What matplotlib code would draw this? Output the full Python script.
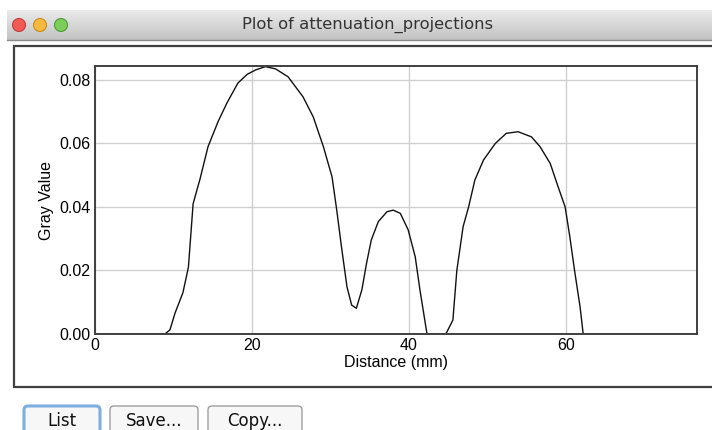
import numpy as np
import matplotlib
matplotlib.use("Agg")
import matplotlib.pyplot as plt
from matplotlib.patches import Rectangle, FancyBboxPatch, Circle

# profile
distance = [0, 8.9, 9.55, 10.2, 11.2, 11.9, 12.5, 13.4, 14.4, 15.7, 16.8, 18.2,
            19.4, 20.5, 21.7, 23.0, 24.6, 26.5, 27.8, 29.1, 30.2, 30.8, 31.4,
            32.1, 32.7, 33.3, 34.0, 34.6, 35.2, 36.1, 37.2, 38.0, 38.9, 39.9,
            40.8, 41.4, 42.3, 44.7, 45.6, 46.1, 46.9, 47.6, 48.4, 49.5, 51.0,
            52.4, 53.9, 55.6, 56.7, 58.0, 59.0, 59.9, 60.5, 61.1, 61.8, 62.2,
            77.0]
gray = [0, 0, 0.0013, 0.0066, 0.013, 0.021, 0.041, 0.049, 0.059, 0.067, 0.0727,
        0.079, 0.0818, 0.0832, 0.0842, 0.0835, 0.081, 0.0747, 0.0684, 0.059,
        0.0495, 0.039, 0.0275, 0.0149, 0.0091, 0.0081, 0.0139, 0.0223, 0.0296,
        0.0354, 0.0385, 0.039, 0.038, 0.0328, 0.0243, 0.0139, 0, 0, 0.0044,
        0.020, 0.0338, 0.040, 0.0485, 0.0548, 0.060, 0.0632, 0.0637, 0.0621,
        0.059, 0.0537, 0.0464, 0.040, 0.0306, 0.020, 0.0086, 0, 0]

x_ticks = [0, 20, 40, 60]
y_ticks = [0.00, 0.02, 0.04, 0.06, 0.08]

W, H = 712, 430
fig = plt.figure(figsize=(W / 100, H / 100), dpi=100)
fig.patch.set_facecolor("white")

# window chrome in pixel coordinates
bg = fig.add_axes([0, 0, 1, 1])
bg.set_xlim(0, W)
bg.set_ylim(H, 0)
bg.axis("off")

grad = np.linspace(0.92, 0.76, 60).reshape(-1, 1)
bg.imshow(grad, cmap="gray", vmin=0, vmax=1, extent=[7, W, 40, 10],
          aspect="auto", zorder=0)
bg.plot([7, W], [40, 40], color="#8a8a8a", lw=1)
for cx, fc, ec in [(19, "#f25a55", "#c0403c"), (40, "#f6b940", "#c98d20"),
                   (61, "#7ccd5a", "#4e9d34")]:
    bg.add_patch(Circle((cx, 25), 6.5, facecolor=fc, edgecolor=ec, lw=0.8))
bg.text(368, 25, "Plot of attenuation_projections", ha="center", va="center",
        fontsize=11.8, family="DejaVu Sans", color="#333333")

bg.add_patch(Rectangle((14, 46), W, 341, facecolor="white",
                       edgecolor="#404040", lw=1.6))

for x0, w, label, ec, lw in [(24, 76, "List", "#7eaee0", 2.2),
                             (110, 88, "Save...", "#a0a0a0", 1),
                             (208, 94, "Copy...", "#a0a0a0", 1)]:
    bg.add_patch(FancyBboxPatch((x0, 406), w, 30,
                                boxstyle="round,pad=0,rounding_size=4",
                                facecolor="#f7f7f7", edgecolor=ec, lw=lw))
    bg.text(x0 + w / 2, 421, label, ha="center", va="center", fontsize=12,
            family="DejaVu Sans", color="#111111")

# plot area
ax = fig.add_axes([95 / W, (H - 334) / H, (697 - 95) / W, (334 - 66) / H])
ax.plot(distance, gray, color="#111111", lw=1.0)
ax.set_xlim(0, 76.7)
ax.set_ylim(0, 0.0844)
ax.set_xticks(x_ticks)
ax.set_yticks(y_ticks)
ax.set_yticklabels([f"{v:.2f}" for v in y_ticks])
ax.tick_params(length=0, labelsize=11.5, pad=3)
for lab in ax.get_xticklabels() + ax.get_yticklabels():
    lab.set_family("Liberation Sans")
ax.grid(True, color="#d0d0d0", lw=1)
ax.set_axisbelow(True)
for s in ax.spines.values():
    s.set_color("#404040")
    s.set_linewidth(1.4)
ax.set_xlabel("Distance (mm)", fontsize=11.5, family="Liberation Sans", labelpad=1)
ax.set_ylabel("Gray Value", fontsize=11.5, family="Liberation Sans", labelpad=4)

fig.savefig("out.png", dpi=100)
